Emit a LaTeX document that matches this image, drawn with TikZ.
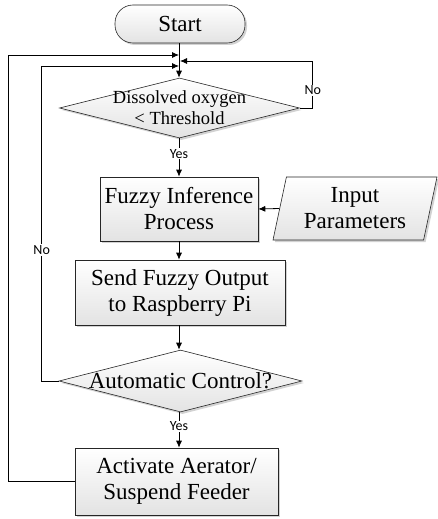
\documentclass[tikz,border=0pt]{standalone}
\usepackage{fontspec}
\setmainfont{Liberation Serif}
\newfontfamily\lblfont{Carlito}
\usetikzlibrary{shapes.geometric,arrows.meta,shadows}
\begin{document}
\begin{tikzpicture}[x=1pt,y=1pt,line width=0.8pt,
  arr/.style={-{Latex[length=7pt,width=6pt]}},
  shade/.style={top color=white,bottom color=gray!22,
    drop shadow={shadow xshift=2pt,shadow yshift=-2pt,fill=gray!70}},
  proc/.style={draw=black!85,line width=0.6pt,rectangle,shade,inner sep=0pt,
    font=\fontsize{23}{26}\selectfont,align=center},
  term/.style={proc,rounded corners=18pt},
  dec/.style={draw=black!85,line width=0.6pt,diamond,shade,inner sep=0pt},
  dtext/.style={inner sep=0pt,align=center},
  io/.style={draw=black!85,line width=0.6pt,trapezium,trapezium left angle=72,
    trapezium right angle=108,trapezium stretches body=true,shade,inner sep=0pt,
    font=\fontsize{23}{26}\selectfont,align=center},
  lbl/.style={fill=white,inner sep=1pt,font=\lblfont\fontsize{14}{16}\selectfont}
]
\useasboundingbox (0,0) rectangle (438,-519);

\node[term,minimum width=130,minimum height=38] (start) at (180,-24) {Start};
\node[dec,minimum width=240,minimum height=60] (d1) at (179.5,-108) {};
\node[dtext,font=\fontsize{18.5}{21}\selectfont] (d1t) at (179.5,-108) {Dissolved oxygen\\< Threshold};
\node[proc,minimum width=158,minimum height=64] (fuzzy) at (179,-209) {Fuzzy Inference\\Process};
\node[io,minimum width=164,minimum height=63] (inp) at (355,-208.5) {Input\\Parameters};
\node[proc,minimum width=210,minimum height=65] (send) at (180,-292.5) {Send Fuzzy Output\\to Raspberry Pi};
\node[dec,minimum width=243,minimum height=62] (d2) at (180.5,-381) {};
\node[dtext,font=\fontsize{23}{26}\selectfont] (d2t) at (180.5,-381) {Automatic Control?};
\node[proc,minimum width=203,minimum height=67] (act) at (176.5,-481.5) {Activate Aerator/\\Suspend Feeder};

\coordinate (m1) at (179,-55);
\coordinate (m2) at (179,-66);
\coordinate (m3) at (180,-61);

\draw[arr] (start.south -| 179,0) -- (d1.north -| 179,0);
\draw[arr] (d1.south -| 179,0) -- node[lbl,pos=0.4]{Yes} (fuzzy.north -| 179,0);
\draw[arr] (inp.west) -- (fuzzy.east);
\draw[arr] (fuzzy.south -| 179,0) -- (send.north -| 179,0);
\draw[arr] (send.south -| 179,0) -- (d2.north -| 179,0);
\draw[arr] (d2.south -| 179,0) -- node[lbl,pos=0.4]{Yes} (act.north -| 179,0);

\draw[arr] (d1.east) -- ++(13,0) |- node[lbl,pos=0.19]{No} (m3);
\draw[arr] (d2.west) -- ++(-17,0) |- node[lbl,pos=0.208]{No} (m2);
\draw[arr] (act.west) -- ++(-66,0) |- (m1);
\end{tikzpicture}
\end{document}
